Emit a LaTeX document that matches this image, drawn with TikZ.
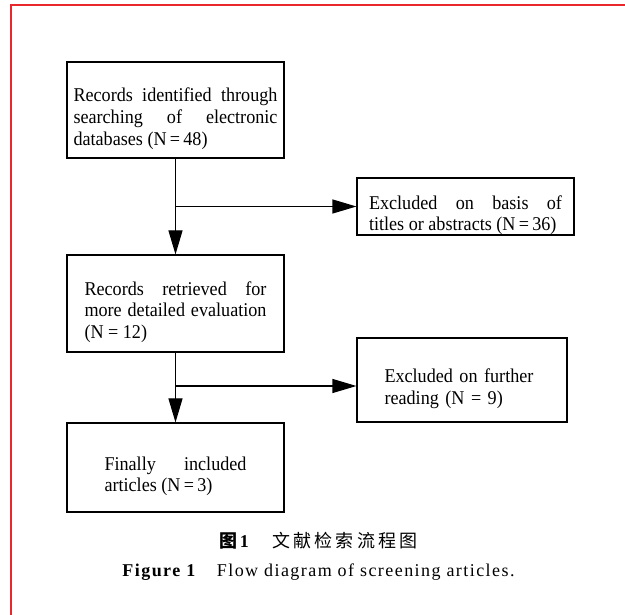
\documentclass[tikz,border=0pt]{standalone}
\usepackage{fontspec}
\setmainfont{Liberation Serif}
\newfontfamily\boxserif{Liberation Serif}[FakeStretch=0.93]
\newfontfamily\cjk{Noto Sans CJK SC}
\usetikzlibrary{arrows.meta}
\definecolor{frame-red}{RGB}{232,40,45}
\newcommand{\boxfont}{\boxserif\fontsize{19.5}{21.7}\selectfont\hyphenpenalty=10000}
\newcommand{\capfont}{\fontsize{18}{20}\selectfont}
\newcommand{\topgap}{\rule{0pt}{31pt}}

\tikzset{
	box/.style={draw, line width=1.1pt, font=\boxfont, align=justify, inner ysep=0pt},
	arr/.style={line width=1.1pt, -{Triangle[length=24pt,width=14pt]}},
}

\begin{document}
\begin{tikzpicture}[x=1pt,y=-1pt]

			\useasboundingbox (0,0) rectangle (625,615);
			\draw[frame-red, line width=2pt] (11,615) -- (11,5) -- (625,5);

			% boxes
			\node[box, text width=204pt, inner xsep=6.5pt, minimum height=96pt] (ident) at (175.5,110)
				{\topgap Records identified through\linebreak searching of electronic\linebreak databases (N\,=\,48)};
			\node[box, text width=193pt, inner xsep=12pt, minimum height=57pt] (excl1) at (465.5,206.5)
				{\topgap Excluded on basis of\linebreak titles or abstracts (N\,=\,36)};
			\node[box, text width=182pt, inner xsep=17.5pt, minimum height=97pt] (retr) at (175.5,303.5)
				{\topgap Records retrieved for\linebreak more detailed evaluation\linebreak (N = 12)};
			\node[box, text width=155pt, inner xsep=27.5pt, minimum height=84pt, align=left] (excl2) at (462,380)
				{\topgap Excluded on further\\ reading (N = 9)};
			\node[box, text width=142pt, inner xsep=37.5pt, minimum height=89pt] (incl) at (175.5,467.5)
				{\topgap Finally included\linebreak articles (N\,=\,3)};

			% connectors
			\draw[arr] (ident) -- (retr);
			\draw[arr] (ident.south |- excl1.west) -- (excl1.west);
			\coordinate (split) at (175.5,386);
			\draw[arr] (retr) -- (incl);
			\draw[arr] (split) -- (split -| excl2.west);

			% caption
			\node[font=\capfont, anchor=base] (capzh) at (318.5,547)
				{{\cjk\bfseries 图}\hspace{2pt}{\bfseries 1}\hspace{24pt}{\cjk\addfontfeature{LetterSpace=17}文献检索流程图}};
			\node[font=\capfont, anchor=base] (capen) at (318.5,576)
				{\addfontfeature{LetterSpace=8}{\bfseries Figure 1}\hspace{1.2em}Flow diagram of screening articles.};
%			\draw[thin, blue] (0,0) grid[step=50] (625,615);
		\end{tikzpicture}
\end{document}
